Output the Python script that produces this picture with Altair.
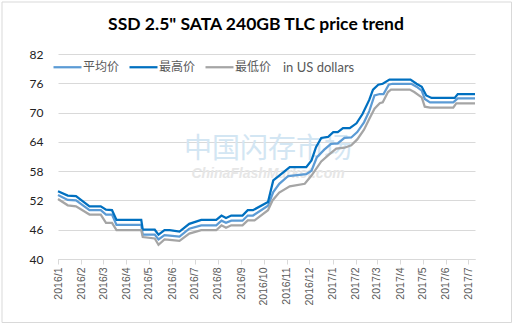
import altair as alt
import pandas as pd

series_names = ["平均价", "最高价", "最低价"]
series_colors = ["#5B9BD5", "#0070C0", "#A5A5A5"]

max_dates = ["2016-01-01", "2016-01-14", "2016-01-25", "2016-02-12", "2016-02-27", "2016-03-05", "2016-03-13",
             "2016-03-19", "2016-04-21", "2016-04-23", "2016-05-09", "2016-05-14", "2016-05-22", "2016-05-29",
             "2016-06-11", "2016-06-24", "2016-07-10", "2016-07-30", "2016-08-06", "2016-08-12", "2016-08-19",
             "2016-09-03", "2016-09-10", "2016-09-17", "2016-10-07", "2016-10-14", "2016-10-22", "2016-11-05",
             "2016-11-27", "2016-12-04", "2016-12-10", "2016-12-17", "2016-12-26", "2017-01-02", "2017-01-08",
             "2017-01-15", "2017-01-24", "2017-02-02", "2017-02-10", "2017-02-19", "2017-02-24", "2017-03-03",
             "2017-03-09", "2017-03-18", "2017-04-15", "2017-04-23", "2017-04-30", "2017-05-06", "2017-05-13",
             "2017-06-13", "2017-06-17", "2017-07-10"]
max_vals = [53.9, 53.0, 52.9, 50.8, 50.8, 50.1, 50.0,
            48.0, 48.0, 46.0, 46.0, 45.0, 45.9, 45.9,
            45.6, 47.2, 48.0, 48.0, 48.9, 48.4, 48.9,
            48.9, 50.0, 50.0, 51.7, 56.1, 57.1, 58.8,
            58.8, 60.2, 62.9, 64.8, 65.0, 66.0, 66.0,
            66.8, 66.8, 67.8, 69.7, 72.6, 74.7, 75.7,
            75.9, 76.75, 76.75, 75.9, 75.3, 73.5, 73.0,
            73.0, 73.8, 73.8]

avg_dates = ["2016-01-01", "2016-01-14", "2016-01-25", "2016-02-12", "2016-02-27", "2016-03-05", "2016-03-13",
             "2016-03-19", "2016-04-21", "2016-04-23", "2016-05-09", "2016-05-14", "2016-05-22", "2016-05-29",
             "2016-06-11", "2016-06-24", "2016-07-10", "2016-07-30", "2016-08-06", "2016-08-12", "2016-08-19",
             "2016-09-03", "2016-09-10", "2016-09-17", "2016-10-07", "2016-10-14", "2016-10-22", "2016-11-03",
             "2016-11-27", "2016-12-04", "2016-12-11", "2016-12-21", "2016-12-30", "2017-01-08", "2017-01-17",
             "2017-01-26", "2017-02-03", "2017-02-12", "2017-02-19", "2017-02-26", "2017-03-05", "2017-03-10",
             "2017-03-17", "2017-03-22", "2017-04-16", "2017-04-23", "2017-04-30", "2017-05-04", "2017-05-11",
             "2017-06-11", "2017-06-17", "2017-07-10"]
avg_vals = [53.1, 52.1, 52.0, 50.0, 50.0, 49.1, 49.1,
            47.0, 47.0, 45.0, 45.0, 44.0, 44.9, 44.8,
            44.6, 46.2, 46.9, 46.9, 47.85, 47.4, 47.85,
            47.85, 48.9, 48.9, 50.9, 53.7, 55.4, 57.0,
            57.4, 58.1, 60.8, 62.4, 63.6, 63.7, 64.8,
            64.9, 66.0, 68.0, 70.3, 73.5, 73.8, 73.8,
            75.7, 75.9, 75.9, 75.3, 74.5, 72.8, 72.1,
            72.1, 72.9, 72.9]

min_dates = ["2016-01-01", "2016-01-14", "2016-01-25", "2016-02-12", "2016-02-27", "2016-03-05", "2016-03-13",
             "2016-03-19", "2016-04-21", "2016-04-23", "2016-05-09", "2016-05-14", "2016-05-22", "2016-05-29",
             "2016-06-11", "2016-06-24", "2016-07-10", "2016-07-30", "2016-08-06", "2016-08-12", "2016-08-19",
             "2016-09-03", "2016-09-10", "2016-09-19", "2016-10-07", "2016-10-13", "2016-10-22", "2016-11-05",
             "2016-11-25", "2016-12-04", "2016-12-17", "2016-12-28", "2017-01-06", "2017-01-17", "2017-01-26",
             "2017-02-03", "2017-02-12", "2017-02-19", "2017-02-26", "2017-03-05", "2017-03-09", "2017-03-16",
             "2017-03-20", "2017-04-14", "2017-04-20", "2017-04-30", "2017-05-04", "2017-05-11", "2017-06-11",
             "2017-06-15", "2017-07-10"]
min_vals = [52.3, 51.0, 50.8, 49.1, 49.1, 47.4, 47.4,
            45.9, 45.9, 44.5, 44.2, 42.9, 44.0, 43.9,
            43.7, 45.2, 45.9, 45.9, 46.9, 46.4, 46.9,
            46.9, 47.9, 47.9, 50.0, 52.0, 53.6, 54.9,
            55.4, 57.1, 60.0, 61.5, 62.6, 62.8, 63.3,
            64.5, 66.5, 68.7, 70.8, 71.9, 72.1, 74.2,
            74.7, 74.7, 74.2, 73.1, 71.2, 71.0, 71.0,
            71.9, 71.9]

y_ticks = [40, 46, 52, 58, 64, 70, 76, 82]
month_ticks = [(2016, m) for m in range(1, 13)] + [(2017, m) for m in range(1, 8)]

rows = []
for name, dates, vals in [("平均价", avg_dates, avg_vals), ("最高价", max_dates, max_vals), ("最低价", min_dates, min_vals)]:
    for d, v in zip(dates, vals):
        rows.append({"date": d, "price": v, "series": name})
df = pd.DataFrame(rows)

W, H = 417, 205
one = pd.DataFrame({"k": [0]})

x_enc = alt.X(
    "date:T",
    scale=alt.Scale(type="utc", domain=[alt.DateTime(year=2016, month=1, date=1, utc=True),
                                         alt.DateTime(year=2017, month=7, date=10, utc=True)]),
    axis=alt.Axis(
        title=None,
        values=[alt.DateTime(year=y, month=m, date=1, utc=True) for y, m in month_ticks],
        labelExpr="utcFormat(datum.value, '%Y/%-m')",
        labelAngle=270, labelFont="Liberation Sans", labelFontSize=10.5, labelColor="#595959",
        labelPadding=3, domainColor="#D9D9D9", tickColor="#D9D9D9", tickSize=5, grid=False,
        labelOverlap=False, labelFlush=False,
    ),
)
y_enc = alt.Y(
    "price:Q",
    scale=alt.Scale(domain=[40, 82], nice=False, zero=False),
    axis=alt.Axis(
        title=None, values=y_ticks, domain=False, ticks=False, gridColor="#D9D9D9",
        labelFont="Lato", labelFontSize=12, labelColor="#222222", labelPadding=15,
    ),
)

lines = alt.Chart(df).mark_line(strokeWidth=2.25).encode(
    x=x_enc, y=y_enc,
    color=alt.Color(
        "series:N",
        scale=alt.Scale(domain=series_names, range=series_colors),
        sort=series_names,
        legend=alt.Legend(
            title=None, orient="none", legendX=-6, legendY=-2.5, direction="horizontal",
            symbolType="stroke", symbolSize=784, symbolStrokeWidth=2.25,
            labelFont="Noto Sans CJK SC", labelFontSize=12, labelColor="#595959",
            labelOffset=0, columnPadding=5,
        ),
    ),
    order=alt.Order("date:T"),
)

border = alt.Chart(one).mark_rect(fill=None, stroke="#D9D9D9", strokeWidth=1).encode(
    x=alt.value(-56), x2=alt.value(453.5), y=alt.value(-52), y2=alt.value(268.5)
)

title = alt.Chart(one).mark_text(
    text='SSD 2.5" SATA 240GB TLC price trend', font="Lato", fontSize=17.5, fontWeight="bold",
    color="#000000", align="center", baseline="middle"
).encode(x=alt.value(198), y=alt.value(-29))

unit = alt.Chart(one).mark_text(
    text="in US dollars", font="Lato", fontSize=13, color="#595959", align="left", baseline="middle"
).encode(x=alt.value(225), y=alt.value(14))

wm_cn = alt.Chart(one).mark_text(
    text="中国闪存市场", font="Noto Sans CJK SC", fontSize=28, color="#D3E6F3", align="center", baseline="middle"
).encode(x=alt.value(210), y=alt.value(96))

wm_en = alt.Chart(one).mark_text(
    text="ChinaFlashMarket.com", font="Liberation Sans", fontSize=14, fontWeight="bold", fontStyle="italic",
    color="#E6E6E6", align="center", baseline="middle"
).encode(x=alt.value(210), y=alt.value(120))

chart = alt.layer(border, wm_cn, wm_en, lines, title, unit).properties(
    width=W, height=H,
    autosize=alt.AutoSizeParams(type="none"),
    padding={"left": 58, "top": 54, "right": 39, "bottom": 67},
    background="white",
).configure_view(stroke=None)

chart.save("out.html", embed_options={"renderer": "svg", "actions": False})
